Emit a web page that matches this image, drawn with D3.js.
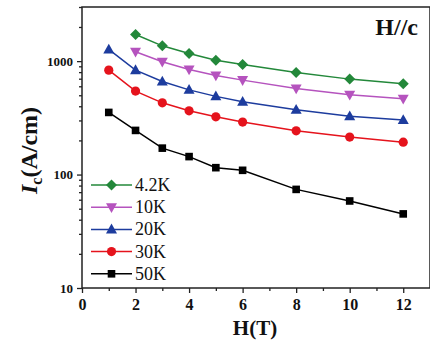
<!DOCTYPE html>
<html>
<head>
<meta charset="utf-8">
<script src="https://cdn.jsdelivr.net/npm/d3@7"></script>
<style>
  body { margin: 0; background: #fff; }
  svg text { font-family: "Liberation Serif", "DejaVu Serif", serif !important; }
</style>
</head>
<body>
<div id="chart"></div>
<script>
// data
const fields = [1, 2, 3, 4, 5, 6, 8, 10, 12]
const labels = ['4.2K', '10K', '20K', '30K', '50K']
const ic42 = [null, 1718, 1364, 1169, 1020, 935, 795, 694, 631]
const ic10 = [null, 1208, 986, 845, 748, 680, 574, 505, 466]
const ic20 = [1268, 833, 662, 558, 489, 438, 372, 327, 302]
const ic30 = [833, 544, 429, 365, 323, 290, 243, 214, 193]
const ic50 = [353, 245, 171, 144, 115, 109, 74, 58.5, 45]
const xTicks = [0, 2, 4, 6, 8, 10, 12]
const yTicks = [10, 100, 1000]

const width = 430
const height = 341
const margin = { top: 7, right: 0, bottom: 53, left: 82 }

const series = [
  { name: labels[0], values: ic42, color: '#23883a', symbol: 'diamond' },
  { name: labels[1], values: ic10, color: '#b553be', symbol: 'down' },
  { name: labels[2], values: ic20, color: '#1d3c9e', symbol: 'up' },
  { name: labels[3], values: ic30, color: '#e5131c', symbol: 'circle' },
  { name: labels[4], values: ic50, color: '#000000', symbol: 'square' }
]

const svg = d3.select('#chart').append('svg')
  .attr('width', width)
  .attr('height', height)

const x = d3.scaleLinear().domain([0, 13]).range([margin.left, width - margin.right])
const y = d3.scaleLog().domain([10, 3000]).range([height - margin.bottom, margin.top])

// 外框
svg.append('rect')
  .attr('x', x(0)).attr('y', y(3000))
  .attr('width', x(13) - x(0)).attr('height', y(10) - y(3000))
  .attr('fill', 'none').attr('stroke', '#222').attr('stroke-width', 1.5)

// x axis
const gx = svg.append('g').attr('transform', `translate(0,${y(10)})`)
gx.call(d3.axisBottom(x).tickValues(xTicks).tickSize(5).tickFormat(d3.format('d')))
gx.append('g').call(d3.axisBottom(x).tickValues([1, 3, 5, 7, 9, 11]).tickSize(3).tickFormat(''))
gx.selectAll('.domain').remove()
gx.selectAll('line').attr('stroke', '#222').attr('stroke-width', 1.3)
gx.selectAll('text')
  .attr('font-size', 16).attr('font-weight', 'bold').attr('fill', '#111')
  .attr('dy', '0.85em')

// y axis
const minorY = []
;[10, 100, 1000].forEach(b => { for (let i = 2; i <= 9; i++) if (b * i <= 3000) minorY.push(b * i) })
const gy = svg.append('g').attr('transform', `translate(${x(0)},0)`)
gy.call(d3.axisLeft(y).tickValues(yTicks).tickSize(5).tickFormat(d3.format('d')))
gy.append('g').call(d3.axisLeft(y).tickValues(minorY).tickSize(3).tickFormat(''))
gy.selectAll('.domain').remove()
gy.selectAll('line').attr('stroke', '#222').attr('stroke-width', 1.3)
gy.selectAll('text')
  .attr('font-size', 13).attr('font-weight', 'bold').attr('fill', '#111')
  .attr('dx', '-1px')

// axis titles
svg.append('text')
  .attr('x', (x(0) + x(13)) / 2 - 1).attr('y', 335)
  .attr('text-anchor', 'middle')
  .attr('font-size', 21).attr('font-weight', 'bold').attr('fill', '#111')
  .text('H(T)')

const yt = svg.append('text')
  .attr('transform', `translate(37,${(y(10) + y(3000)) / 2 + 3}) rotate(-90)`)
  .attr('text-anchor', 'middle')
  .attr('font-size', 24).attr('font-weight', 'bold').attr('fill', '#111')
yt.append('tspan').attr('font-style', 'italic').text('I')
yt.append('tspan').attr('font-size', 16).attr('dy', 5).text('c')
yt.append('tspan').attr('dy', -5).text('(A/cm)')

svg.append('text')
  .attr('x', 418).attr('y', 35)
  .attr('text-anchor', 'end')
  .attr('font-size', 24).attr('font-weight', 'bold').attr('fill', '#111')
  .text('H//c')

// markers
const drawMarker = (g, s, cx, cy) => {
  if (s.symbol === 'circle') {
    g.append('circle').attr('cx', cx).attr('cy', cy).attr('r', 4.6).attr('fill', s.color)
  } else if (s.symbol === 'square') {
    g.append('rect').attr('x', cx - 3.8).attr('y', cy - 3.8).attr('width', 7.6).attr('height', 7.6).attr('fill', s.color)
  } else {
    let pts
    if (s.symbol === 'diamond') pts = [[0, -5.5], [5.5, 0], [0, 5.5], [-5.5, 0]]
    if (s.symbol === 'up') pts = [[0, -5.8], [5.5, 4], [-5.5, 4]]
    if (s.symbol === 'down') pts = [[0, 5.8], [5.5, -4], [-5.5, -4]]
    g.append('path')
      .attr('d', 'M' + pts.map(p => [cx + p[0], cy + p[1]].join(',')).join('L') + 'Z')
      .attr('fill', s.color)
  }
}

const line = d3.line()
  .defined(d => d[1] != null)
  .x(d => x(d[0]))
  .y(d => y(d[1]))

series.forEach(s => {
  const pts = fields.map((f, i) => [f, s.values[i]])
  const g = svg.append('g')
  g.append('path')
    .attr('d', line(pts))
    .attr('fill', 'none').attr('stroke', s.color).attr('stroke-width', 1.5)
  pts.filter(p => p[1] != null).forEach(p => drawMarker(g, s, x(p[0]), y(p[1])))
})

// legend
const legend = svg.append('g')
series.forEach((s, i) => {
  const ly = 185 + i * 22.2
  legend.append('line')
    .attr('x1', 91).attr('x2', 132).attr('y1', ly).attr('y2', ly)
    .attr('stroke', s.color).attr('stroke-width', 1.5)
  drawMarker(legend, s, 111.5, ly)
  legend.append('text')
    .attr('x', 135).attr('y', ly + 6)
    .attr('font-size', 18).attr('fill', '#111')
    .text(s.name)
})
</script>
</body>
</html>
